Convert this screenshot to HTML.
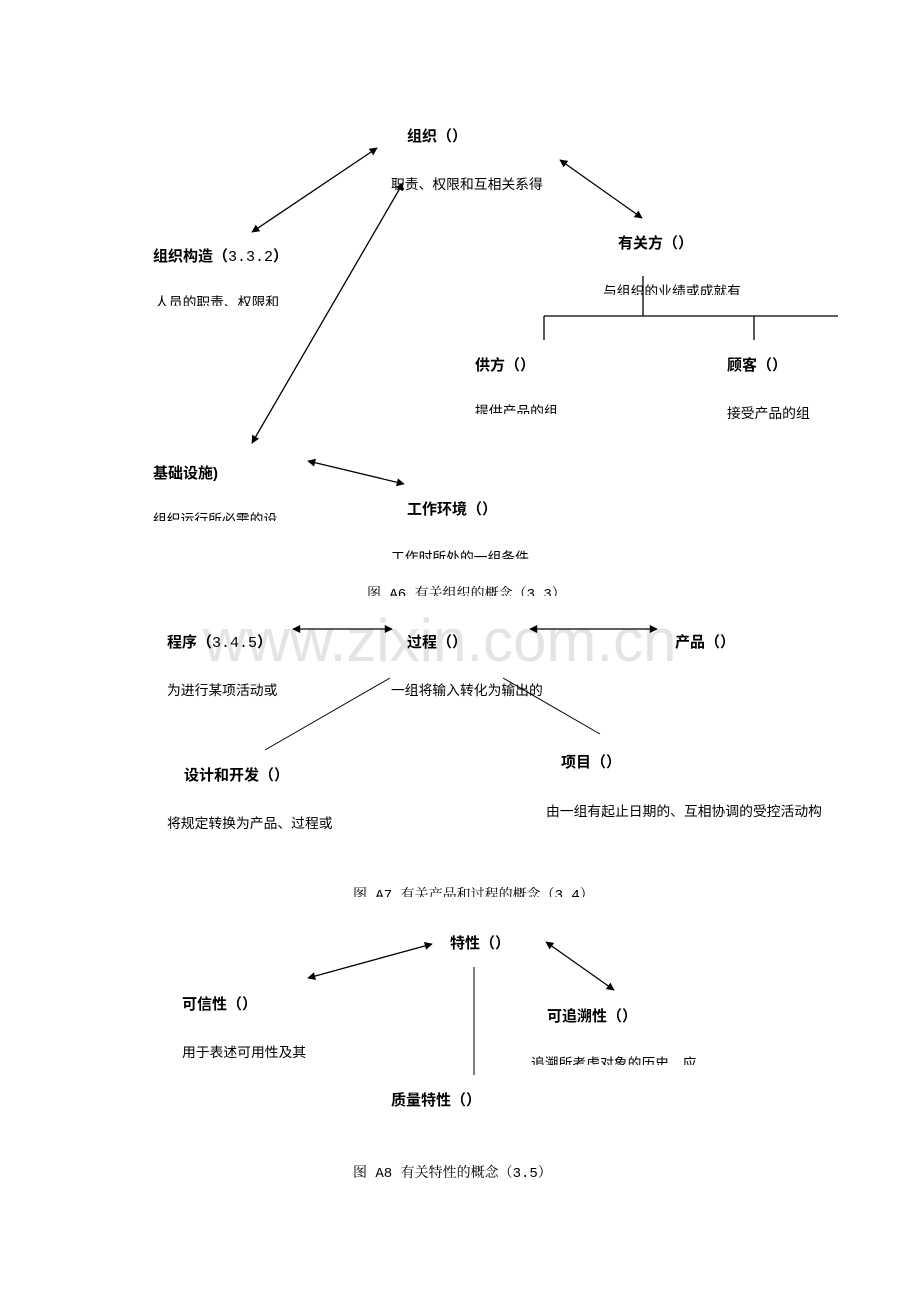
<!DOCTYPE html>
<html><head><meta charset="utf-8"><style>
html,body{margin:0;padding:0;background:#fff;}
svg{display:block;}
text{font-family:"Liberation Sans","Noto Sans CJK SC",sans-serif;fill:#000;}
.b{font-weight:bold;font-size:15px;}
.n{font-size:13.8px;}
.m{font-family:"Liberation Mono",monospace;font-weight:normal;}
.c{font-family:"Liberation Mono","Noto Serif CJK SC",monospace;font-size:14px;}
</style></head><body>
<svg width="920" height="1302" viewBox="0 0 920 1302" xmlns="http://www.w3.org/2000/svg">
<defs>
<marker id="a" viewBox="0 0 10 10" refX="9" refY="5" markerWidth="10" markerHeight="8" orient="auto-start-reverse" markerUnits="userSpaceOnUse"><path d="M0,0 L10,5 L0,10 z" fill="#000"/></marker>
<clipPath id="k1"><rect x="0" y="0" width="920" height="306"/></clipPath>
<clipPath id="k2"><rect x="0" y="0" width="920" height="295"/></clipPath>
<clipPath id="k3"><rect x="0" y="0" width="920" height="414"/></clipPath>
<clipPath id="k4"><rect x="0" y="0" width="920" height="521"/></clipPath>
<clipPath id="k5"><rect x="0" y="0" width="920" height="559"/></clipPath>
<clipPath id="k6"><rect x="0" y="0" width="920" height="596"/></clipPath>
<clipPath id="k7"><rect x="0" y="0" width="920" height="897"/></clipPath>
<clipPath id="k8"><rect x="0" y="0" width="920" height="1065"/></clipPath>
</defs>
<text x="203" y="661" style="font-size:60px;fill:#e4e4e4;font-family:'Liberation Sans',sans-serif;">www.zixin.com.cn</text>
<g stroke="#000" stroke-width="1.3" fill="none">
<line x1="377" y1="148" x2="252" y2="232" marker-start="url(#a)" marker-end="url(#a)"/>
<line x1="560" y1="160" x2="642" y2="218" marker-start="url(#a)" marker-end="url(#a)"/>
<line x1="403" y1="183" x2="252" y2="443" marker-start="url(#a)" marker-end="url(#a)"/>
<line x1="308" y1="461" x2="404" y2="484" marker-start="url(#a)" marker-end="url(#a)"/>
<line x1="643" y1="276" x2="643" y2="316"/>
<line x1="544" y1="316" x2="838" y2="316"/>
<line x1="544" y1="316" x2="544" y2="340"/>
<line x1="754" y1="316" x2="754" y2="340"/>
<line x1="293" y1="629" x2="392" y2="629" marker-start="url(#a)" marker-end="url(#a)"/>
<line x1="530" y1="629" x2="657" y2="629" marker-start="url(#a)" marker-end="url(#a)"/>
<line x1="390" y1="678" x2="265" y2="750" stroke-width="1"/>
<line x1="503" y1="678" x2="600" y2="734" stroke-width="1"/>
<line x1="432" y1="944" x2="308" y2="978" marker-start="url(#a)" marker-end="url(#a)"/>
<line x1="546" y1="942" x2="614" y2="990" marker-start="url(#a)" marker-end="url(#a)"/>
<line x1="474" y1="967" x2="474" y2="1075" stroke-width="1"/>
</g>

<text class="b" x="407" y="141">组织（）</text>
<text class="n" x="391" y="189">职责、权限和互相关系得</text>
<text class="b" x="153" y="261">组织构造（<tspan class="m">3.3.2</tspan>）</text>
<text class="n" x="155" y="307" clip-path="url(#k1)">人员的职责、权限和</text>
<text class="b" x="618" y="248">有关方（）</text>
<text class="n" x="603" y="296" clip-path="url(#k2)">与组织的业绩或成就有</text>
<text class="b" x="475" y="370">供方（）</text>
<text class="n" x="475" y="416" clip-path="url(#k3)">提供产品的组</text>
<text class="b" x="727" y="370">顾客（）</text>
<text class="n" x="727" y="418">接受产品的组</text>
<text class="b" x="153" y="478">基础设施)</text>
<text class="n" x="153" y="524" clip-path="url(#k4)">组织运行所必需的设</text>
<text class="b" x="407" y="514">工作环境（）</text>
<text class="n" x="391" y="562" clip-path="url(#k5)">工作时所处的一组条件</text>
<text class="c" x="367" y="598" clip-path="url(#k6)">图 A6 有关组织的概念（3.3）</text>

<text class="b" x="167" y="647">程序（<tspan class="m">3.4.5</tspan>）</text>
<text class="b" x="407" y="647">过程（）</text>
<text class="b" x="675" y="647">产品（）</text>
<text class="n" x="167" y="695">为进行某项活动或</text>
<text class="n" x="391" y="695">一组将输入转化为输出的</text>
<text class="b" x="184" y="780">设计和开发（）</text>
<text class="b" x="561" y="767">项目（）</text>
<text class="n" x="167" y="828">将规定转换为产品、过程或</text>
<text class="n" x="546" y="816">由一组有起止日期的、互相协调的受控活动构</text>
<text class="c" x="353" y="899" clip-path="url(#k7)">图 A7 有关产品和过程的概念（3.4）</text>

<text class="b" x="450" y="948">特性（）</text>
<text class="b" x="182" y="1009">可信性（）</text>
<text class="n" x="182" y="1057">用于表述可用性及其</text>
<text class="b" x="547" y="1021">可追溯性（）</text>
<text class="n" x="531" y="1068" clip-path="url(#k8)">追溯所考虑对象的历史、应</text>
<text class="b" x="391" y="1105">质量特性（）</text>
<text class="c" x="353" y="1177">图 A8 有关特性的概念（3.5）</text>
</svg>
</body></html>
